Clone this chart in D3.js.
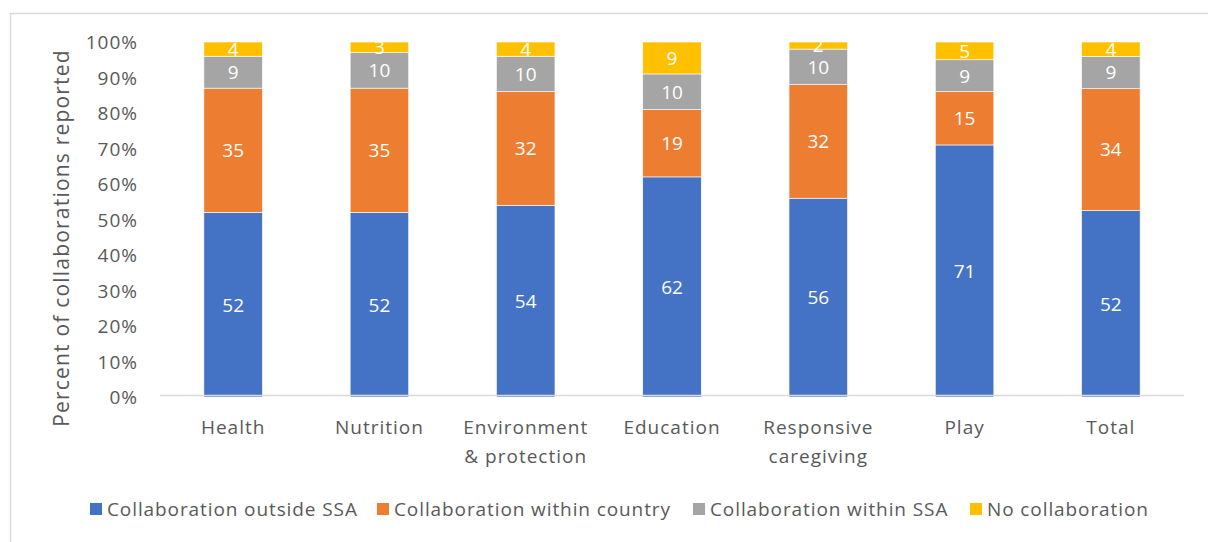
<!DOCTYPE html>
<html><head><meta charset="utf-8">
<script src="https://cdn.jsdelivr.net/npm/d3@7"></script>
<style>
body{margin:0;background:#fff;}
svg{display:block;font-family:"Open Sans", sans-serif;}
</style></head>
<body><svg id="c" width="1208" height="542"></svg>
<script>
const categories = ["Health","Nutrition","Environment\n& protection","Education","Responsive\ncaregiving","Play","Total"];
const seriesNames = ["Collaboration outside SSA","Collaboration within country","Collaboration within SSA","No collaboration"];
const outsideSSA = [52,52,54,62,56,71,52];
const withinCountry = [35,35,32,19,32,15,34];
const withinSSA = [9,10,10,10,10,9,9];
const noCollab = [4,3,4,9,2,5,4];
const colors = ["#4472C4","#ED7D31","#A5A5A5","#FFC000"];
const yTicks = [0,0.1,0.2,0.3,0.4,0.5,0.6,0.7,0.8,0.9,1.0];

const svg = d3.select("#c");
// chart frame
svg.append("rect").attr("x",10.5).attr("y",13.5).attr("width",1220).attr("height",560)
  .attr("fill","none").attr("stroke","#d9d9d9").attr("stroke-width",1.5);

const pL=160, pR=1184, pT=42, pB=397;
const x = d3.scaleBand().domain(categories).range([pL,pR]).paddingInner(0.6).paddingOuter(0.3);
const y = d3.scaleLinear().domain([0,1]).range([pB,pT]);

const rows = categories.map((c,i)=>({cat:c, s0:outsideSSA[i], s1:withinCountry[i], s2:withinSSA[i], s3:noCollab[i]}));
const stack = d3.stack().keys(["s0","s1","s2","s3"]).offset(d3.stackOffsetExpand);
const layers = stack(rows);

// y axis
const yAxis = d3.axisLeft(y).tickValues(yTicks).tickFormat(d3.format(".0%")).tickSize(0).tickPadding(0);
const ya = svg.append("g").attr("transform",`translate(${pL-22},0)`).call(yAxis);
ya.select(".domain").remove();
ya.selectAll("text").attr("fill","#595959").style("font-size","19px").style("font-family","'Open Sans', sans-serif")
  .style("letter-spacing","1px").attr("dy","0.35em");

// bars
layers.forEach((layer,k)=>{
  const g = svg.append("g");
  g.selectAll("rect").data(layer).join("rect")
    .attr("x",d=>x(d.data.cat)).attr("width",x.bandwidth())
    .attr("y",d=>y(d[1])).attr("height",d=>y(d[0])-y(d[1]))
    .attr("fill",colors[k]).attr("stroke","#fff").attr("stroke-width",0.6);
  g.selectAll("text").data(layer).join("text")
    .attr("x",d=>x(d.data.cat)+x.bandwidth()/2)
    .attr("y",d=>(y(d[0])+y(d[1]))/2)
    .attr("dy","0.36em").attr("text-anchor","middle")
    .attr("fill","#fff").style("font-size","19px")
    .text(d=>d.data["s"+k]);
});

// baseline
svg.append("line").attr("x1",pL).attr("x2",pR).attr("y1",pB-1.5).attr("y2",pB-1.5)
  .attr("stroke","#d9d9d9").attr("stroke-width",1.5);

// x labels
const xa = svg.append("g");
categories.forEach(c=>{
  const t = xa.append("text").attr("x",x(c)+x.bandwidth()/2).attr("y",434)
    .attr("text-anchor","middle").attr("fill","#595959").style("font-size","19px").style("letter-spacing","1px");
  c.split("\n").forEach((ln,i)=>t.append("tspan").attr("x",x(c)+x.bandwidth()/2).attr("dy",i?29:0).text(ln));
});

// y title
svg.append("text").attr("transform","translate(69,238) rotate(-90)")
  .attr("text-anchor","middle").attr("fill","#595959").style("font-size","21px").style("letter-spacing","1.2px")
  .text("Percent of collaborations reported");

// legend
const legX = [90,377,693,970];
seriesNames.forEach((n,i)=>{
  svg.append("rect").attr("x",legX[i]).attr("y",503).attr("width",12).attr("height",12).attr("fill",colors[i]);
  svg.append("text").attr("x",legX[i]+17).attr("y",516).attr("fill","#595959").style("font-size","19px")
    .style("letter-spacing","0.9px").text(n);
});
</script></body></html>
